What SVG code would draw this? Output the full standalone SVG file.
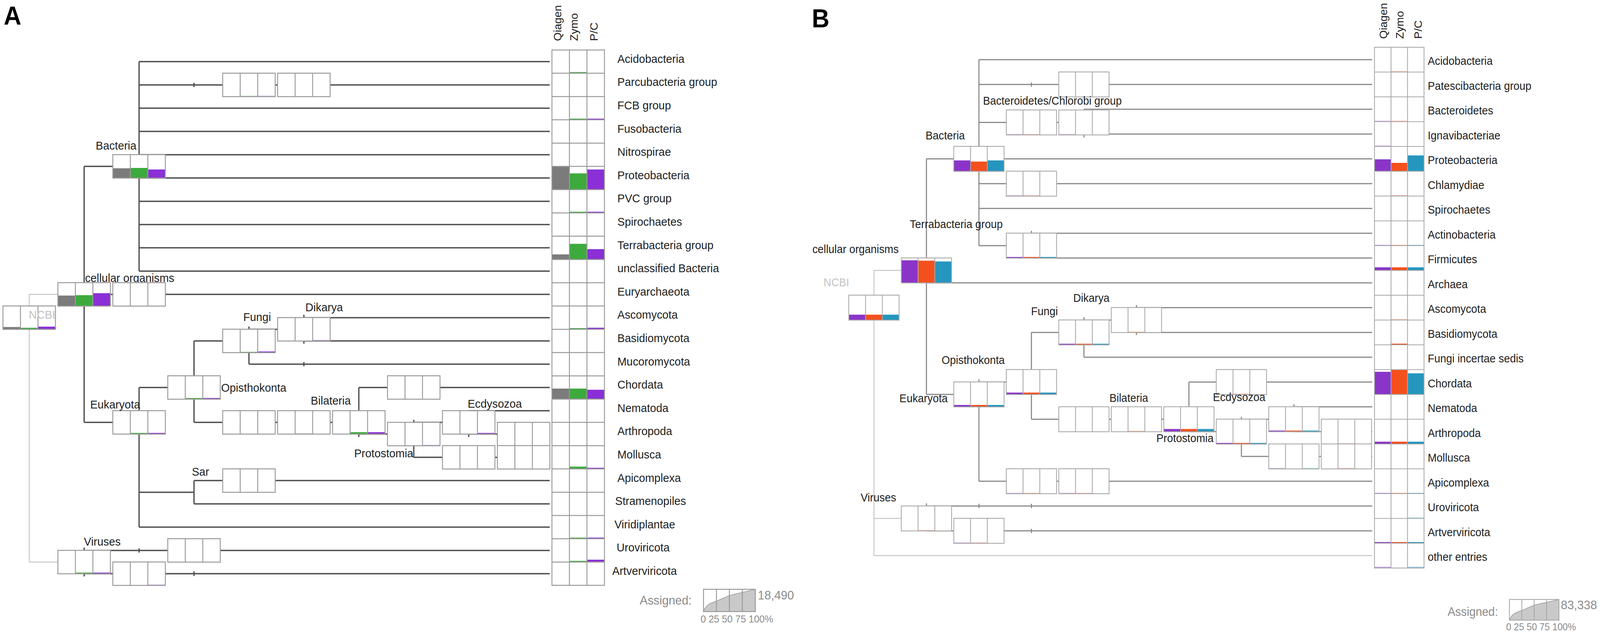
<svg xmlns="http://www.w3.org/2000/svg" xmlns:xlink="http://www.w3.org/1999/xlink" width="4328" height="1626" viewBox="0 0 4328 1626">
<style>
.t{font-family:"Liberation Sans",Arial,Helvetica,sans-serif;fill:#1e1e1e}
.la{font-size:30px}
.lb{font-size:29px}
.hd{font-size:28.5px}
.lt{fill:#c2c2c2}
.lg{fill:#8a8a8a}
.pl{font-family:"Liberation Sans",Arial,sans-serif;font-weight:bold;font-size:66px;fill:#000}
.ea{fill:none;stroke:#505050;stroke-width:3.5}
.eb{fill:none;stroke:#8a8a8a;stroke-width:3}
.ng{fill:none;stroke:#c6c6c6;stroke-width:2.5}
.w{fill:#fff}
.gl{fill:none;stroke:#9a9a9a;stroke-width:2.5}
.gb{fill:none;stroke:#a8a8a8;stroke-width:2.2}
.g{fill:#7b7b7b}
.gr{fill:#3daa3d}
.pu{fill:#8b2fd6}
.pb{fill:#8a35c8}
.or{fill:#f4501e}
.te{fill:#2596be}
.f{opacity:.55}
</style>
<defs>
<g id="fa"><rect width="142" height="60" class="gl"/><path d="M47.33 0V60M94.67 0V60" class="gl"/></g>
<g id="fb"><rect width="136" height="64" class="gb"/><path d="M45.33 0V64M90.67 0V64" class="gb"/></g>
</defs>
<rect width="4328" height="1626" fill="#fff"/>
<g id="diagram" transform="scale(0.9464,1)">
<text class="pl" x="10" y="63">A</text>
<text class="pl" x="2196" y="70">B</text>

<!-- ================= PANEL A connectors ================= -->
<g id="a-connectors">
<path class="ng" d="M79 753.8V1439.2M79 753.8H156M79 1439.2H156"/>
<path class="ea" d="M376.2 157.8V694.2M376.2 157.8H1487M376.2 217.4H1487M376.2 277H1487M376.2 336.6H1487M376.2 396.2H1487M376.2 455.8H1487M376.2 515.4H1487M376.2 575H1487M376.2 634.6H1487M376.2 694.2H1487
M227.6 426V1081.6M227.6 426H305M227.6 753.8H1487M227.6 1081.6H305
M376.2 992.2V1349.8M376.2 992.2H453M376.2 1260.4H524.8M376.2 1349.8H1487
M524.8 873V1081.6M524.8 873H602M524.8 1081.6H970.6
M673.4 836V932.6M673.4 843.2H822M673.4 932.6H1487
M822 806V880M822 813.4H1487M822 873H1487
M970.6 992.2V1119M970.6 992.2H1487M970.6 1111.4H1119.2
M1119.2 1075V1171M1119.2 1081.6H1267.8M1119.2 1171H1487
M1267.8 1051.8V1119M1267.8 1051.8H1487M1267.8 1111.4H1487
M524.8 1230.6V1290.2M524.8 1230.6H1487M524.8 1290.2H1487
M227.6 1402V1476M227.6 1409.4H1487M227.6 1469H1487
M524.8 212V223M822 927V938M376.2 1404V1415M524.8 1463V1475"/>
</g>

<!-- ================= PANEL A nodes ================= -->
<g id="a-ncbi" transform="translate(8,783.4)"><rect class="w" width="142" height="60"/><rect class="g" x="0" y="54" width="47.33" height="6"/><rect class="gr" x="47.33" y="56" width="47.33" height="4"/><rect class="pu" x="94.67" y="53" width="47.33" height="7"/><use href="#fa"/><text class="t la lt" x="70" y="32.6">NCBI</text></g>
<g id="a-cellular" transform="translate(156.6,723.8)"><rect class="w" width="142" height="60"/><rect class="g" x="0" y="33" width="47.33" height="27"/><rect class="gr" x="47.33" y="32" width="47.33" height="28"/><rect class="pu" x="94.67" y="27" width="47.33" height="33"/><use href="#fa"/></g>
<text class="t la" x="230" y="722">cellular organisms</text>
<g id="a-archaea" transform="translate(305.2,723.8)"><rect class="w" width="142" height="60"/><use href="#fa"/></g>
<g id="a-bacteria" transform="translate(305.2,396)"><rect class="w" width="142" height="60"/><rect class="g" x="0" y="35" width="47.33" height="25"/><rect class="gr" x="47.33" y="34" width="47.33" height="26"/><rect class="pu" x="94.67" y="38" width="47.33" height="22"/><use href="#fa"/></g>
<text class="t la" x="369" y="383" text-anchor="end">Bacteria</text>
<g id="a-parcu4" transform="translate(602.4,187.4)"><rect class="w" width="142" height="60"/><rect class="gr f" x="47.33" y="58" width="47.33" height="2"/><rect class="pu f" x="94.67" y="58" width="47.33" height="2"/><use href="#fa"/></g>
<g id="a-parcu5" transform="translate(751,187.4)"><rect class="w" width="142" height="60"/><use href="#fa"/></g>
<g id="a-eukaryota" transform="translate(305.2,1051.6)"><rect class="w" width="142" height="60"/><rect class="gr" x="47.33" y="57" width="47.33" height="3"/><rect class="pu" x="94.67" y="57" width="47.33" height="3"/><use href="#fa"/></g>
<text class="t la" x="379" y="1046" text-anchor="end">Eukaryota</text>
<g id="a-opisthokonta" transform="translate(453.8,962.2)"><rect class="w" width="142" height="60"/><rect class="gr" x="47.33" y="57" width="47.33" height="3"/><rect class="pu" x="94.67" y="57" width="47.33" height="3"/><use href="#fa"/></g>
<text class="t la" x="598" y="1003">Opisthokonta</text>
<g id="a-fungi" transform="translate(602.4,843)"><rect class="w" width="142" height="60"/><rect class="gr" x="47.33" y="58" width="47.33" height="2"/><rect class="pu" x="94.67" y="57" width="47.33" height="3"/><use href="#fa"/></g>
<text class="t la" x="658" y="822">Fungi</text>
<g id="a-dikarya" transform="translate(751,813.2)"><rect class="w" width="142" height="60"/><rect class="pu" x="94.67" y="58" width="47.33" height="2"/><use href="#fa"/></g>
<text class="t la" x="826" y="797">Dikarya</text>
<g id="a-metazoa4" transform="translate(602.4,1051.6)"><rect class="w" width="142" height="60"/><use href="#fa"/></g>
<g id="a-metazoa5" transform="translate(751,1051.6)"><rect class="w" width="142" height="60"/><rect class="gr f" x="47.33" y="58" width="47.33" height="2"/><use href="#fa"/></g>
<g id="a-bilateria" transform="translate(899.6,1051.6)"><rect class="w" width="142" height="60"/><rect class="gr" x="47.33" y="55" width="47.33" height="5"/><rect class="pu" x="94.67" y="55" width="47.33" height="5"/><use href="#fa"/></g>
<text class="t la" x="949" y="1036" text-anchor="end">Bilateria</text>
<g id="a-deuterostomia" transform="translate(1048.2,962.2)"><rect class="w" width="142" height="60"/><use href="#fa"/></g>
<g id="a-protostomia" transform="translate(1048.2,1081.4)"><rect class="w" width="142" height="60"/><rect class="pu f" x="94.67" y="58" width="47.33" height="2"/><use href="#fa"/></g>
<text class="t la" x="1118" y="1171" text-anchor="end">Protostomia</text>
<g id="a-ecdysozoa" transform="translate(1196.8,1051.6)"><rect class="w" width="142" height="60"/><rect class="pu" x="94.67" y="57" width="47.33" height="3"/><use href="#fa"/></g>
<text class="t la" x="1265" y="1044">Ecdysozoa</text>
<g id="a-arthropoda9" transform="translate(1345.4,1081.4)"><rect class="w" width="142" height="60"/><use href="#fa"/></g>
<g id="a-mollusca8" transform="translate(1196.8,1141)"><rect class="w" width="142" height="60"/><use href="#fa"/></g>
<g id="a-mollusca9" transform="translate(1345.4,1141)"><rect class="w" width="142" height="60"/><use href="#fa"/></g>
<g id="a-alveolata" transform="translate(602.4,1200.6)"><rect class="w" width="142" height="60"/><use href="#fa"/></g>
<text class="t la" x="519" y="1218">Sar</text>
<g id="a-viruses" transform="translate(156.6,1409.2)"><rect class="w" width="142" height="60"/><rect class="gr" x="47.33" y="57" width="47.33" height="3"/><rect class="pu" x="94.67" y="57" width="47.33" height="3"/><use href="#fa"/></g>
<text class="t la" x="227" y="1397">Viruses</text>
<g id="a-uroviricota3" transform="translate(453.8,1379.4)"><rect class="w" width="142" height="60"/><use href="#fa"/></g>
<g id="a-artverviricota2" transform="translate(305.2,1439)"><rect class="w" width="142" height="60"/><rect class="pu f" x="94.67" y="58" width="47.33" height="2"/><use href="#fa"/></g>

<!-- ================= PANEL A grid ================= -->
<g id="a-grid">
<rect class="g" x="1493" y="426" width="47.33" height="59.6"/><rect class="gr" x="1540.33" y="444" width="47.33" height="41.6"/><rect class="pu" x="1587.67" y="434" width="47.33" height="51.6"/>
<rect class="g" x="1493" y="651.4" width="47.33" height="13"/><rect class="gr" x="1540.33" y="624.4" width="47.33" height="40"/><rect class="pu" x="1587.67" y="638" width="47.33" height="26.4"/>
<rect class="g" x="1493" y="995" width="47.33" height="27"/><rect class="gr" x="1540.33" y="995" width="47.33" height="27"/><rect class="pu" x="1587.67" y="998" width="47.33" height="24"/>
<rect class="gr" x="1540.33" y="184.6" width="47.33" height="3"/>
<rect class="gr" x="1540.33" y="303.8" width="47.33" height="3"/><rect class="pu" x="1587.67" y="303.8" width="47.33" height="3"/>
<rect class="gr" x="1540.33" y="542.2" width="47.33" height="3"/><rect class="pu" x="1587.67" y="542.2" width="47.33" height="3"/>
<rect class="gr" x="1540.33" y="840.2" width="47.33" height="3"/><rect class="pu" x="1587.67" y="839.2" width="47.33" height="4"/>
<rect class="gr" x="1540.33" y="1194.8" width="47.33" height="6"/><rect class="pu" x="1587.67" y="1197.8" width="47.33" height="3"/>
<rect class="gr" x="1540.33" y="1376.6" width="47.33" height="3"/><rect class="pu" x="1587.67" y="1376.6" width="47.33" height="3"/>
<rect class="gr" x="1540.33" y="1436.2" width="47.33" height="3"/><rect class="pu" x="1587.67" y="1433.2" width="47.33" height="6"/>
<rect class="gl" x="1493" y="128" width="142" height="1370.8"/>
<path class="gl" d="M1540.33 128V1498.8M1587.67 128V1498.8M1493 187.6H1635M1493 247.2H1635M1493 306.8H1635M1493 366.4H1635M1493 426H1635M1493 485.6H1635M1493 545.2H1635M1493 604.8H1635M1493 664.4H1635M1493 724H1635M1493 783.6H1635M1493 843.2H1635M1493 902.8H1635M1493 962.4H1635M1493 1022H1635M1493 1081.6H1635M1493 1141.2H1635M1493 1200.8H1635M1493 1260.4H1635M1493 1320H1635M1493 1379.6H1635M1493 1439.2H1635"/>
<text class="t hd" transform="translate(1518,105) rotate(-90)">Qiagen</text>
<text class="t hd" transform="translate(1563,105) rotate(-90)">Zymo</text>
<text class="t hd" transform="translate(1617,105) rotate(-90)">P/C</text>
</g>
<g id="a-leaves" class="t la">
<text x="1670" y="160.8">Acidobacteria</text>
<text x="1670" y="220.4">Parcubacteria group</text>
<text x="1670" y="280">FCB group</text>
<text x="1670" y="339.6">Fusobacteria</text>
<text x="1670" y="399.2">Nitrospirae</text>
<text x="1670" y="458.8">Proteobacteria</text>
<text x="1670" y="518.4">PVC group</text>
<text x="1670" y="578">Spirochaetes</text>
<text x="1670" y="637.6">Terrabacteria group</text>
<text x="1670" y="697.2">unclassified Bacteria</text>
<text x="1670" y="756.8">Euryarchaeota</text>
<text x="1670" y="816.4">Ascomycota</text>
<text x="1670" y="876">Basidiomycota</text>
<text x="1670" y="935.6">Mucoromycota</text>
<text x="1670" y="995.2">Chordata</text>
<text x="1670" y="1054.8">Nematoda</text>
<text x="1670" y="1114.4">Arthropoda</text>
<text x="1670" y="1174">Mollusca</text>
<text x="1670" y="1233.6">Apicomplexa</text>
<text x="1664" y="1293.2">Stramenopiles</text>
<text x="1662" y="1352.8">Viridiplantae</text>
<text x="1668" y="1412.4">Uroviricota</text>
<text x="1656" y="1472">Artverviricota</text>
</g>
<g id="a-legend">
<text class="t lg" x="1871" y="1548" font-size="32" text-anchor="end">Assigned:</text>
<path d="M1903 1566L1905.8 1559.2L1911.4 1551.8L1919.8 1546L1931 1541.5L1938 1539.2L1955.5 1531.8L1973 1525L1990.5 1520.4L2008 1517L2025.5 1513L2043 1509L2043 1566Z" fill="#c9c9c9" stroke="#999" stroke-width="1.5"/>
<rect x="1903" y="1509" width="140" height="57" class="gl"/>
<path d="M1938 1509V1566M1973 1509V1566M2008 1509V1566" class="gl"/>
<text class="t lg" x="2050" y="1535" font-size="32">18,490</text>
<text class="t lg" x="1895" y="1594" font-size="26">0 25 50 75 100%</text>
</g>

<!-- ================= PANEL B connectors ================= -->
<g id="b-connectors">
<path class="ng" d="M2364 692.5V1422.75M2364 692.5H2438M2364 1327.5H2438M2364 1422.75H3712"/>
<path class="eb" d="M2648 152.75V629M2648 152.75H3712M2648 216.25H3712M2648 313.5H2932M2648 406.75H3712M2648 470.25H3712M2648 533.75H3712M2648 629H2790
M2932 279.75V352M2932 279.75H3712M2932 343.25H3712
M2790 591V660.75M2790 597.25H3712M2790 660.75H3712
M2506 406.75V1010M2506 406.75H2580M2506 724.25H3712M2506 1010H2580
M2648 971V1232.25M2648 978.25H2722M2648 1232.25H3712
M2790 851.25V1073.5M2790 851.25H2864M2790 1073.5H3216
M2932 812V914.75M2932 819.5H3074M2932 914.75H3712
M3074 781V858M3074 787.75H3712M3074 851.25H3712
M3216 978.25V1105.25M3216 978.25H3712M3216 1105.25H3358
M3358 1067V1168.75M3358 1073.5H3500M3358 1168.75H3712
M3500 1035V1105.25M3500 1041.75H3712M3500 1105.25H3712
M2506 1289V1359.25M2506 1295.75H3712M2506 1359.25H3712
M2790 211V222M2648 1290V1301M2790 1290V1301M2790 1354V1365"/>
</g>

<!-- ================= PANEL B nodes ================= -->
<g id="b-ncbi" transform="translate(2296,755.75)"><rect class="w" width="136" height="64"/><rect class="pb" x="0" y="50" width="45.33" height="14"/><rect class="or" x="45.33" y="50" width="45.33" height="14"/><rect class="te" x="90.67" y="50" width="45.33" height="14"/><use href="#fb"/></g>
<text class="t lb lt" x="2297" y="733" text-anchor="end">NCBI</text>
<g id="b-cellular" transform="translate(2438,660.5)"><rect class="w" width="136" height="64"/><rect class="pb" x="0" y="6" width="45.33" height="58"/><rect class="or" x="45.33" y="7" width="45.33" height="57"/><rect class="te" x="90.67" y="9" width="45.33" height="55"/><use href="#fb"/></g>
<text class="t lb" x="2431" y="648" text-anchor="end">cellular organisms</text>
<g id="b-bacteria" transform="translate(2580,374.75)"><rect class="w" width="136" height="64"/><rect class="pb" x="0" y="36" width="45.33" height="28"/><rect class="or" x="45.33" y="39" width="45.33" height="25"/><rect class="te" x="90.67" y="36" width="45.33" height="28"/><use href="#fb"/></g>
<text class="t lb" x="2610" y="357" text-anchor="end">Bacteria</text>
<g id="b-patescibacteria4" transform="translate(2864,184.25)"><rect class="w" width="136" height="64"/><use href="#fb"/></g>
<g id="b-bacteroidetes-chlorobi" transform="translate(2722,281.5)"><rect class="w" width="136" height="64"/><rect class="pb f" x="0" y="62" width="45.33" height="2"/><rect class="or f" x="45.33" y="62" width="45.33" height="2"/><use href="#fb"/></g>
<text class="t lb" x="2659" y="268">Bacteroidetes/Chlorobi group</text>
<g id="b-fcb4" transform="translate(2864,281.5)"><rect class="w" width="136" height="64"/><rect class="pb f" x="0" y="62" width="45.33" height="2"/><use href="#fb"/></g>
<g id="b-chlamydiae3" transform="translate(2722,438.25)"><rect class="w" width="136" height="64"/><rect class="pb f" x="0" y="62" width="45.33" height="2"/><rect class="or f" x="45.33" y="62" width="45.33" height="2"/><use href="#fb"/></g>
<g id="b-terrabacteria" transform="translate(2722,597)"><rect class="w" width="136" height="64"/><rect class="pb" x="0" y="61" width="45.33" height="3"/><rect class="or" x="45.33" y="61" width="45.33" height="3"/><rect class="te" x="90.67" y="61" width="45.33" height="3"/><use href="#fb"/></g>
<text class="t lb" x="2461" y="584">Terrabacteria group</text>
<g id="b-eukaryota" transform="translate(2580,978)"><rect class="w" width="136" height="64"/><rect class="pb" x="0" y="59" width="45.33" height="5"/><rect class="or" x="45.33" y="59" width="45.33" height="5"/><rect class="te" x="90.67" y="59" width="45.33" height="5"/><use href="#fb"/></g>
<text class="t lb" x="2433" y="1030">Eukaryota</text>
<g id="b-opisthokonta" transform="translate(2722,946.25)"><rect class="w" width="136" height="64"/><rect class="pb" x="0" y="59" width="45.33" height="5"/><rect class="or" x="45.33" y="59" width="45.33" height="5"/><rect class="te" x="90.67" y="59" width="45.33" height="5"/><use href="#fb"/></g>
<text class="t lb" x="2547" y="932">Opisthokonta</text>
<g id="b-fungi" transform="translate(2864,819.25)"><rect class="w" width="136" height="64"/><rect class="pb" x="0" y="61" width="45.33" height="3"/><rect class="or" x="45.33" y="61" width="45.33" height="3"/><rect class="te" x="90.67" y="61" width="45.33" height="3"/><use href="#fb"/></g>
<text class="t lb" x="2789" y="807">Fungi</text>
<g id="b-dikarya" transform="translate(3006,787.5)"><rect class="w" width="136" height="64"/><rect class="or f" x="45.33" y="62" width="45.33" height="2"/><use href="#fb"/></g>
<text class="t lb" x="2903" y="773">Dikarya</text>
<g id="b-metazoa4" transform="translate(2864,1041.5)"><rect class="w" width="136" height="64"/><use href="#fb"/></g>
<g id="b-metazoa5" transform="translate(3006,1041.5)"><rect class="w" width="136" height="64"/><rect class="or f" x="45.33" y="62" width="45.33" height="2"/><use href="#fb"/></g>
<g id="b-bilateria" transform="translate(3148,1041.5)"><rect class="w" width="136" height="64"/><rect class="pb" x="0" y="57" width="45.33" height="7"/><rect class="or" x="45.33" y="57" width="45.33" height="7"/><rect class="te" x="90.67" y="57" width="45.33" height="7"/><use href="#fb"/></g>
<text class="t lb" x="3001" y="1029">Bilateria</text>
<g id="b-deuterostomia" transform="translate(3290,946.25)"><rect class="w" width="136" height="64"/><rect class="or f" x="45.33" y="62" width="45.33" height="2"/><use href="#fb"/></g>
<g id="b-protostomia" transform="translate(3290,1073.25)"><rect class="w" width="136" height="64"/><rect class="pb" x="0" y="61" width="45.33" height="3"/><rect class="or" x="45.33" y="61" width="45.33" height="3"/><rect class="te" x="90.67" y="61" width="45.33" height="3"/><use href="#fb"/></g>
<text class="t lb" x="3128" y="1132">Protostomia</text>
<g id="b-ecdysozoa" transform="translate(3432,1041.5)"><rect class="w" width="136" height="64"/><rect class="pb" x="0" y="61" width="45.33" height="3"/><rect class="or" x="45.33" y="61" width="45.33" height="3"/><rect class="te" x="90.67" y="61" width="45.33" height="3"/><use href="#fb"/></g>
<text class="t lb" x="3281" y="1027">Ecdysozoa</text>
<g id="b-arthropoda9" transform="translate(3574,1073.25)"><rect class="w" width="136" height="64"/><rect class="or f" x="45.33" y="62" width="45.33" height="2"/><use href="#fb"/></g>
<g id="b-mollusca8" transform="translate(3432,1136.75)"><rect class="w" width="136" height="64"/><rect class="pb f" x="0" y="62" width="45.33" height="2"/><rect class="te f" x="90.67" y="62" width="45.33" height="2"/><use href="#fb"/></g>
<g id="b-mollusca9" transform="translate(3574,1136.75)"><rect class="w" width="136" height="64"/><rect class="or f" x="45.33" y="62" width="45.33" height="2"/><use href="#fb"/></g>
<g id="b-apicomplexa3" transform="translate(2722,1200.25)"><rect class="w" width="136" height="64"/><rect class="pb f" x="0" y="62" width="45.33" height="2"/><rect class="or f" x="45.33" y="62" width="45.33" height="2"/><use href="#fb"/></g>
<g id="b-apicomplexa4" transform="translate(2864,1200.25)"><rect class="w" width="136" height="64"/><rect class="pb f" x="0" y="62" width="45.33" height="2"/><rect class="or f" x="45.33" y="62" width="45.33" height="2"/><use href="#fb"/></g>
<g id="b-viruses" transform="translate(2438,1295.5)"><rect class="w" width="136" height="64"/><rect class="or f" x="45.33" y="62" width="45.33" height="2"/><use href="#fb"/></g>
<text class="t lb" x="2328" y="1284">Viruses</text>
<g id="b-artverviricota2" transform="translate(2580,1327.25)"><rect class="w" width="136" height="64"/><rect class="pb f" x="0" y="62" width="45.33" height="2"/><rect class="or f" x="45.33" y="62" width="45.33" height="2"/><use href="#fb"/></g>

<!-- ================= PANEL B grid ================= -->
<g id="b-grid">
<rect class="pb" x="3718" y="408" width="44.67" height="30.5"/><rect class="or" x="3762.67" y="417" width="44.67" height="21.5"/><rect class="te" x="3807.33" y="398" width="44.67" height="40.5"/>
<rect class="pb" x="3718" y="684.5" width="44.67" height="8"/><rect class="or" x="3762.67" y="684.5" width="44.67" height="8"/><rect class="te" x="3807.33" y="684.5" width="44.67" height="8"/>
<rect class="pb" x="3718" y="952" width="44.67" height="58"/><rect class="or" x="3762.67" y="946.5" width="44.67" height="63.5"/><rect class="te" x="3807.33" y="956" width="44.67" height="54"/>
<rect class="pb" x="3718" y="1131" width="44.67" height="6"/><rect class="or" x="3762.67" y="1131" width="44.67" height="6"/><rect class="te" x="3807.33" y="1131" width="44.67" height="6"/>
<rect class="pb" x="3718" y="1388" width="44.67" height="3"/><rect class="or" x="3762.67" y="1388" width="44.67" height="3"/><rect class="te" x="3807.33" y="1388" width="44.67" height="3"/>
<rect class="or" x="3762.67" y="880" width="44.67" height="3"/>
<g class="f">
<rect class="or" x="3762.67" y="182.5" width="44.67" height="2"/>
<rect class="pb" x="3718" y="309.5" width="44.67" height="2"/><rect class="or" x="3762.67" y="309.5" width="44.67" height="2"/>
<rect class="pb" x="3718" y="373" width="44.67" height="2"/>
<rect class="or" x="3762.67" y="500" width="44.67" height="2"/>
<rect class="pb" x="3718" y="627" width="44.67" height="2"/><rect class="or" x="3762.67" y="627" width="44.67" height="2"/><rect class="te" x="3807.33" y="627" width="44.67" height="2"/>
<rect class="or" x="3762.67" y="817.5" width="44.67" height="2"/>
<rect class="pb" x="3718" y="1262" width="44.67" height="2"/><rect class="or" x="3762.67" y="1262" width="44.67" height="2"/><rect class="te" x="3807.33" y="1262" width="44.67" height="2"/>
<rect class="te" x="3807.33" y="1325.5" width="44.67" height="2"/>
<rect class="pb" x="3718" y="1451.5" width="44.67" height="3"/><rect class="te" x="3807.33" y="1451.5" width="44.67" height="3"/>
</g>
<rect class="gb" x="3718" y="121" width="134" height="1333.5"/>
<path class="gb" d="M3762.67 121V1454.5M3807.33 121V1454.5M3718 184.5H3852M3718 248H3852M3718 311.5H3852M3718 375H3852M3718 438.5H3852M3718 502H3852M3718 565.5H3852M3718 629H3852M3718 692.5H3852M3718 756H3852M3718 819.5H3852M3718 883H3852M3718 946.5H3852M3718 1010H3852M3718 1073.5H3852M3718 1137H3852M3718 1200.5H3852M3718 1264H3852M3718 1327.5H3852M3718 1391H3852"/>
<text class="t hd" transform="translate(3752,99.5) rotate(-90)">Qiagen</text>
<text class="t hd" transform="translate(3796,99.5) rotate(-90)">Zymo</text>
<text class="t hd" transform="translate(3846,99.5) rotate(-90)">P/C</text>
</g>
<g id="b-leaves" class="t lb">
<text x="3862" y="166.25">Acidobacteria</text>
<text x="3862" y="229.75">Patescibacteria group</text>
<text x="3862" y="293.25">Bacteroidetes</text>
<text x="3862" y="356.75">Ignavibacteriae</text>
<text x="3862" y="420.25">Proteobacteria</text>
<text x="3862" y="483.75">Chlamydiae</text>
<text x="3862" y="547.25">Spirochaetes</text>
<text x="3862" y="610.75">Actinobacteria</text>
<text x="3862" y="674.25">Firmicutes</text>
<text x="3862" y="737.75">Archaea</text>
<text x="3862" y="801.25">Ascomycota</text>
<text x="3862" y="864.75">Basidiomycota</text>
<text x="3862" y="928.25">Fungi incertae sedis</text>
<text x="3862" y="991.75">Chordata</text>
<text x="3862" y="1055.25">Nematoda</text>
<text x="3862" y="1118.75">Arthropoda</text>
<text x="3862" y="1182.25">Mollusca</text>
<text x="3862" y="1245.75">Apicomplexa</text>
<text x="3862" y="1309.25">Uroviricota</text>
<text x="3862" y="1372.75">Artverviricota</text>
<text x="3862" y="1436.25">other entries</text>
</g>
<g id="b-legend">
<text class="t lg" x="4052" y="1577" font-size="31" text-anchor="end">Assigned:</text>
<path d="M4083 1588L4085.7 1581.6L4091 1574.8L4099.1 1569.5L4109.8 1565.2L4116.5 1563.1L4133.3 1556.2L4150 1549.8L4166.8 1545.6L4183.5 1542.4L4200.3 1538.7L4217 1535L4217 1588Z" fill="#c9c9c9" stroke="#999" stroke-width="1.5"/>
<rect x="4083" y="1535" width="134" height="53" class="gb"/>
<path d="M4116.5 1535V1588M4150 1535V1588M4183.5 1535V1588" class="gb"/>
<text class="t lg" x="4222" y="1560" font-size="32">83,338</text>
<text class="t lg" x="4074" y="1614" font-size="25">0 25 50 75 100%</text>
</g>
</g>
</svg>
